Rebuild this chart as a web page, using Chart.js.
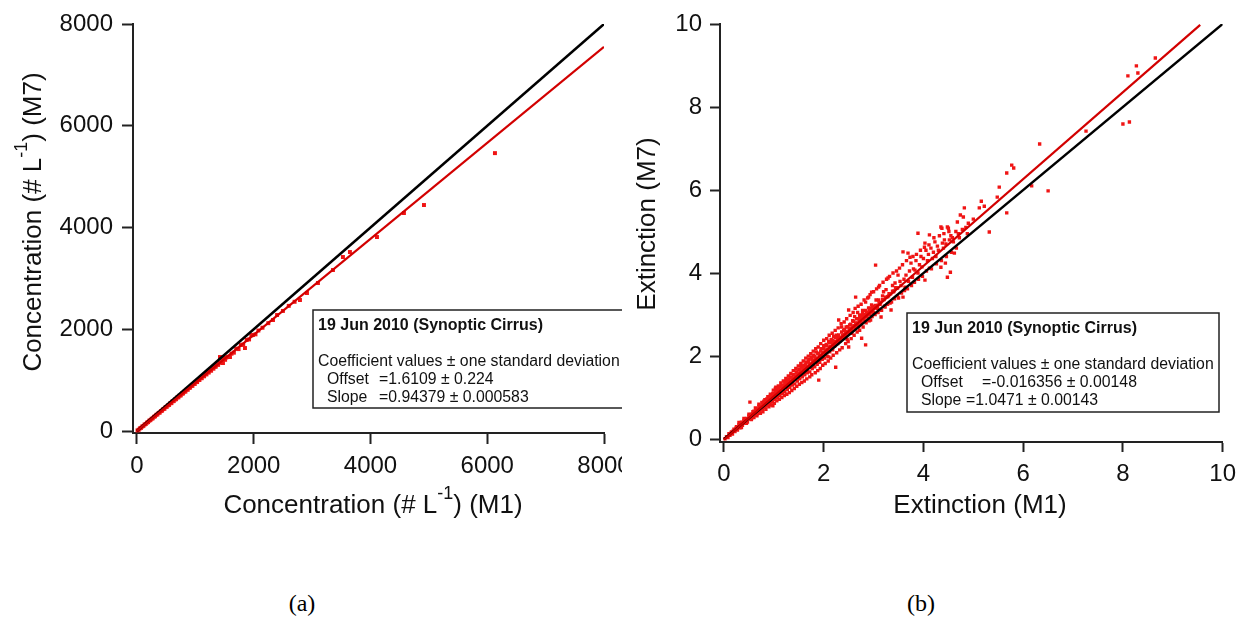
<!DOCTYPE html>
<html>
<head>
<meta charset="utf-8">
<script src="https://cdn.jsdelivr.net/npm/chart.js@4.4.0/dist/chart.umd.min.js"></script>
<style>
  body { margin: 0; background: #fff; }
  #wrap { position: relative; width: 1244px; height: 634px; overflow: hidden; background: #fff; }
  #chartA { position: absolute; left: 0; top: 0; }
  #chartB { position: absolute; left: 622px; top: 0; background: #fff; }
  .cap { position: absolute; top: 590px; font: 24px "Liberation Serif", "Times New Roman", serif; color: #000; transform: translateX(-50%); }
</style>
</head>
<body>
<div id="wrap">
  <canvas id="chartA" width="660" height="540"></canvas>
  <canvas id="chartB" width="622" height="540"></canvas>
  <span class="cap" style="left:302px">(a)</span>
  <span class="cap" style="left:921px">(b)</span>
</div>
<script>
/* ---------------- DATA (a) : concentration ---------------- */
const concTicks = [0, 2000, 4000, 6000, 8000];

const concX = [10, 30, 50, 70, 90, 110, 130, 150, 170, 190, 210, 230, 250, 270, 290, 310, 330, 350, 370, 390,
  410, 430, 450, 470, 490, 510, 530, 550, 570, 590, 610, 630, 650, 670, 690, 710, 730, 750, 770, 790,
  810, 830, 850, 870, 890, 910, 930, 950, 970, 990, 1010, 1030, 1050, 1070, 1090, 1110, 1130, 1150, 1170, 1190,
  1210, 1230, 1250, 1270, 1290, 1310, 1330, 1350, 1370, 1390, 1410, 1422, 1440, 1455, 1473, 1490, 1510, 1530, 1560, 1593,
  1620, 1660, 1700, 1740, 1780, 1820, 1850, 1880, 1920, 1960, 1987, 2030, 2080, 2150, 2250, 2330, 2400, 2500, 2600, 2700,
  2792, 2912, 3100, 3357, 3528, 3648, 4111, 4573, 4916, 6132];
const concY = [12, 25, 52, 62, 88, 100, 127, 138, 165, 175, 203, 214, 240, 250, 280, 288, 318, 325, 356, 362,
  392, 400, 430, 436, 470, 476, 505, 512, 546, 548, 585, 588, 620, 625, 660, 662, 695, 700, 735, 738,
  772, 775, 812, 812, 848, 852, 885, 888, 925, 925, 962, 962, 1000, 1002, 1040, 1038, 1080, 1075, 1118, 1112,
  1155, 1150, 1195, 1185, 1235, 1225, 1262, 1265, 1310, 1300, 1345, 1454, 1345, 1420, 1336, 1440, 1400, 1445, 1460, 1454,
  1520, 1540, 1620, 1610, 1690, 1700, 1631, 1790, 1800, 1880, 1887, 1900, 1975, 2030, 2120, 2182, 2280, 2360, 2460, 2540,
  2575, 2712, 2909, 3164, 3420, 3518, 3813, 4285, 4442, 5462];

const concOneX = [0, 8000];
const concOneY = [0, 8000];
const concFitX = [0, 8000];
const concFitY = [1.6, 7552];

/* ---------------- DATA (b) : extinction ---------------- */
const extTicks = [0, 2, 4, 6, 8, 10];

// edges of the cloud and the outliers
const extX = [0.02, 0.05, 0.08, 0.10, 0.12, 0.15, 0.17, 0.20, 0.22, 0.25, 0.27, 0.30, 0.32, 0.35, 0.37, 0.40, 0.42, 0.45, 0.47, 0.50,
  0.52, 0.52, 0.55, 0.57, 0.60, 0.62, 0.65, 0.67, 0.70, 0.72, 0.75, 0.77, 0.80, 0.82, 0.85, 0.87, 0.90, 0.92, 0.95, 0.97,
  0.98, 1.00, 1.02, 1.03, 1.05, 1.07, 1.10, 1.12, 1.15, 1.17, 1.20, 1.22, 1.25, 1.27, 1.30, 1.32, 1.35, 1.37, 1.40, 1.42,
  1.45, 1.47, 1.50, 1.52, 1.55, 1.57, 1.60, 1.62, 1.65, 1.67, 1.70, 1.71, 1.72, 1.75, 1.77, 1.80, 1.81, 1.82, 1.85, 1.87,
  1.90, 1.90, 1.92, 1.95, 1.97, 2.00, 2.02, 2.05, 2.07, 2.10, 2.10, 2.12, 2.15, 2.16, 2.18, 2.20, 2.22, 2.24, 2.25, 2.28,
  2.30, 2.30, 2.33, 2.36, 2.38, 2.40, 2.42, 2.45, 2.47, 2.50, 2.50, 2.52, 2.55, 2.56, 2.58, 2.60, 2.62, 2.64, 2.65, 2.68,
  2.70, 2.72, 2.74, 2.76, 2.78, 2.80, 2.84, 2.84, 2.86, 2.90, 2.92, 2.94, 2.96, 2.98, 3.00, 3.04, 3.05, 3.08, 3.10, 3.10,
  3.13, 3.15, 3.18, 3.20, 3.23, 3.25, 3.29, 3.30, 3.33, 3.35, 3.38, 3.40, 3.43, 3.45, 3.49, 3.50, 3.53, 3.55, 3.59, 3.59,
  3.61, 3.63, 3.65, 3.69, 3.70, 3.72, 3.75, 3.78, 3.80, 3.83, 3.85, 3.89, 3.89, 3.92, 3.95, 3.97, 4.00, 4.03, 4.03, 4.05,
  4.08, 4.10, 4.12, 4.12, 4.15, 4.18, 4.20, 4.23, 4.25, 4.28, 4.30, 4.35, 4.35, 4.37, 4.38, 4.40, 4.42, 4.44, 4.45, 4.48,
  4.48, 4.50, 4.52, 4.54, 4.55, 4.58, 4.62, 4.65, 4.68, 4.70, 4.74, 4.80, 4.82, 4.85, 4.90, 5.00, 5.12, 5.16, 5.22, 5.32,
  5.48, 5.52, 5.67, 5.67, 5.77, 5.81, 6.17, 6.33, 6.50, 7.26, 8.00, 8.10, 8.13, 8.27, 8.30, 8.65];
const extY = [0.01, 0.06, 0.04, 0.13, 0.09, 0.17, 0.12, 0.24, 0.18, 0.30, 0.22, 0.34, 0.27, 0.41, 0.33, 0.45, 0.38, 0.50, 0.41, 0.56,
  0.89, 0.48, 0.60, 0.52, 0.67, 0.58, 0.72, 0.61, 0.79, 0.68, 0.80, 0.72, 0.88, 0.76, 0.93, 0.82, 1.00, 0.85, 1.04, 0.90,
  0.80, 1.10, 0.95, 1.22, 1.16, 1.00, 1.20, 1.05, 1.27, 1.10, 1.30, 1.14, 1.38, 1.20, 1.45, 1.25, 1.50, 1.30, 1.55, 1.33,
  1.62, 1.40, 1.68, 1.45, 1.75, 1.50, 1.78, 1.55, 1.86, 1.60, 1.92, 1.73, 1.62, 1.98, 1.70, 2.02, 1.90, 1.74, 2.10, 1.80,
  2.07, 1.42, 1.85, 2.18, 1.92, 2.25, 1.95, 2.28, 2.00, 1.98, 2.35, 2.10, 2.40, 2.19, 2.15, 2.47, 2.25, 1.73, 2.50, 2.30,
  2.87, 2.43, 2.38, 2.70, 2.45, 2.62, 2.50, 2.70, 2.40, 3.11, 2.22, 2.75, 2.60, 2.55, 2.85, 2.70, 2.95, 3.42, 2.75, 3.05,
  2.70, 2.90, 2.99, 2.43, 3.10, 2.95, 3.30, 2.27, 3.05, 3.42, 3.15, 2.87, 3.54, 3.20, 3.05, 4.19, 3.35, 3.15, 3.66, 3.35,
  3.25, 2.94, 3.45, 3.55, 3.18, 3.60, 3.88, 3.45, 3.28, 3.11, 3.70, 3.55, 3.76, 3.65, 3.95, 3.40, 3.80, 3.70, 4.51, 3.42,
  3.85, 3.66, 3.95, 4.48, 3.80, 4.05, 4.24, 3.90, 4.10, 4.07, 4.30, 4.96, 4.00, 4.20, 4.40, 4.15, 4.35, 4.72, 3.83, 4.55,
  4.30, 4.45, 4.92, 4.12, 4.60, 4.35, 4.50, 4.75, 4.40, 4.65, 4.55, 5.11, 4.14, 5.08, 4.72, 4.60, 4.80, 4.24, 4.70, 5.11,
  3.90, 5.08, 4.80, 4.02, 4.90, 4.85, 4.48, 5.00, 5.23, 4.95, 5.40, 5.35, 5.57, 5.10, 5.20, 5.30, 5.57, 5.73, 5.61, 4.99,
  5.83, 6.07, 6.41, 5.45, 6.60, 6.53, 6.10, 7.11, 5.98, 7.42, 7.59, 8.75, 7.64, 8.99, 8.82, 9.18];

// outer part of the dense band
const extBandX = [0.30, 0.35, 0.40, 0.45, 0.50, 0.55, 0.58, 0.60, 0.63, 0.66, 0.70, 0.73, 0.76, 0.78, 0.82, 0.84, 0.88, 0.90, 0.93, 0.95,
  0.99, 1.01, 1.04, 1.06, 1.09, 1.11, 1.14, 1.16, 1.19, 1.21, 1.24, 1.26, 1.29, 1.31, 1.34, 1.36, 1.39, 1.41, 1.44, 1.46,
  1.49, 1.51, 1.54, 1.56, 1.59, 1.61, 1.64, 1.66, 1.69, 1.72, 1.74, 1.76, 1.79, 1.83, 1.84, 1.88, 1.89, 1.93, 1.94, 1.98,
  2.00, 2.03, 2.06, 2.09, 2.11, 2.14, 2.17, 2.19, 2.23, 2.26, 2.29, 2.32, 2.35, 2.37, 2.41, 2.44, 2.46, 2.49, 2.53, 2.55,
  2.59, 2.61, 2.63, 2.67, 2.69, 2.72, 2.75, 2.79, 2.81, 2.85, 2.88, 2.91, 2.93, 2.97, 3.00, 3.03, 3.06, 3.09, 3.12, 3.16,
  3.19, 3.22, 3.26, 3.28, 3.32, 3.36, 3.39, 3.42, 3.46, 3.48, 3.52, 3.56, 3.58, 3.62, 3.66, 3.68, 3.73, 3.76, 3.79, 3.82,
  3.86, 3.90, 3.94, 3.98, 4.02, 4.06, 4.11, 4.16, 4.21, 4.26, 4.32, 4.36, 4.41, 4.46, 4.51, 4.56, 4.60, 4.66, 4.72, 4.78,
  4.88];
const extBandY = [0.40, 0.28, 0.50, 0.38, 0.60, 0.47, 0.66, 0.52, 0.75, 0.56, 0.84, 0.62, 0.88, 0.66, 0.95, 0.72, 1.02, 0.78, 1.08, 0.82,
  1.18, 0.86, 1.25, 0.92, 1.28, 0.96, 1.35, 1.00, 1.40, 1.05, 1.46, 1.08, 1.52, 1.12, 1.58, 1.17, 1.65, 1.22, 1.70, 1.27,
  1.76, 1.32, 1.82, 1.36, 1.88, 1.40, 1.95, 1.45, 2.00, 1.50, 2.06, 1.55, 2.12, 1.60, 2.18, 1.65, 2.22, 1.70, 2.30, 1.78,
  2.38, 1.82, 2.42, 1.88, 2.50, 1.95, 2.55, 2.02, 2.62, 2.08, 2.68, 2.15, 2.78, 2.20, 2.82, 2.30, 2.90, 2.35, 2.98, 2.42,
  3.05, 2.50, 3.15, 2.58, 3.20, 2.62, 3.25, 2.70, 3.35, 2.80, 3.40, 2.85, 3.48, 2.95, 3.55, 3.00, 3.62, 3.05, 3.70, 3.10,
  3.78, 3.20, 3.85, 3.25, 3.92, 3.30, 4.00, 3.38, 4.05, 3.45, 4.12, 3.52, 4.20, 3.58, 4.30, 3.62, 4.38, 3.70, 4.40, 3.78,
  4.45, 3.85, 4.55, 3.92, 4.62, 4.05, 4.68, 4.10, 4.85, 4.22, 4.90, 4.30, 4.95, 4.40, 5.00, 4.50, 4.75, 4.60, 4.85, 5.05,
  4.95];

// core of the dense band
const extCoreX = [0.11, 0.14, 0.18, 0.21, 0.24, 0.28, 0.31, 0.34, 0.38, 0.41, 0.44, 0.48, 0.51, 0.54, 0.58, 0.61, 0.64, 0.68, 0.71, 0.74,
  0.78, 0.81, 0.84, 0.88, 0.91, 0.94, 0.98, 1.01, 1.04, 1.08, 1.11, 1.14, 1.18, 1.21, 1.24, 1.28, 1.31, 1.34, 1.38, 1.41,
  1.44, 1.48, 1.51, 1.54, 1.58, 1.61, 1.64, 1.68, 1.71, 1.74, 1.78, 1.81, 1.84, 1.88, 1.91, 1.94, 1.98, 2.01, 2.04, 2.08,
  2.11, 2.14, 2.18, 2.21, 2.24, 2.28, 2.31, 2.34, 2.38, 2.41, 2.44, 2.48, 2.51, 2.54, 2.58, 2.61, 2.64, 2.68, 2.71, 2.74,
  2.78, 2.81, 2.84, 2.88, 2.91, 2.94, 2.98, 3.01, 3.04, 3.08, 3.11, 3.14, 3.18, 3.21, 3.24, 3.28, 3.31, 3.34, 3.38, 3.41,
  3.44, 3.48,
  0.80, 0.83, 0.86, 0.89, 0.92, 0.95, 0.98, 1.01, 1.04, 1.07, 1.10, 1.13, 1.16, 1.19, 1.22, 1.25, 1.28, 1.31, 1.34, 1.37,
  1.40, 1.43, 1.46, 1.49, 1.52, 1.55, 1.58, 1.61, 1.64, 1.67, 1.70, 1.73, 1.76, 1.79, 1.82, 1.85, 1.88, 1.91, 1.94, 1.97,
  2.00, 2.03, 2.06, 2.09, 2.12, 2.15, 2.18, 2.21, 2.24, 2.27, 2.30, 2.33, 2.36, 2.39, 2.42, 2.45, 2.48, 2.51, 2.54, 2.57,
  2.60, 2.63, 2.66, 2.69, 2.72, 2.75, 2.78, 2.81, 2.84, 2.87, 2.90, 2.93, 2.96, 2.99];
const extCoreY = [0.12, 0.14, 0.19, 0.21, 0.26, 0.28, 0.33, 0.35, 0.40, 0.42, 0.47, 0.49, 0.54, 0.55, 0.61, 0.63, 0.68, 0.70, 0.75, 0.76,
  0.82, 0.84, 0.89, 0.91, 0.96, 0.97, 1.03, 1.05, 1.10, 1.12, 1.17, 1.18, 1.24, 1.26, 1.31, 1.32, 1.38, 1.40, 1.45, 1.47,
  1.52, 1.53, 1.59, 1.60, 1.66, 1.68, 1.73, 1.74, 1.80, 1.81, 1.87, 1.89, 1.94, 1.95, 2.01, 2.02, 2.08, 2.10, 2.15, 2.16,
  2.22, 2.23, 2.30, 2.31, 2.36, 2.37, 2.44, 2.45, 2.50, 2.52, 2.58, 2.58, 2.65, 2.66, 2.72, 2.73, 2.80, 2.79, 2.86, 2.87,
  2.93, 2.94, 3.00, 3.01, 3.07, 3.08, 3.14, 3.15, 3.22, 3.22, 3.28, 3.29, 3.36, 3.36, 3.42, 3.43, 3.50, 3.50, 3.56, 3.57,
  3.64, 3.64,
  0.91, 0.80, 0.97, 0.86, 1.03, 0.92, 1.10, 0.99, 1.16, 1.05, 1.22, 1.11, 1.29, 1.18, 1.35, 1.24, 1.42, 1.30, 1.48, 1.36,
  1.54, 1.43, 1.61, 1.49, 1.67, 1.55, 1.73, 1.62, 1.80, 1.68, 1.86, 1.74, 1.93, 1.80, 1.99, 1.87, 2.06, 1.93, 2.12, 1.99,
  2.19, 2.06, 2.25, 2.12, 2.32, 2.18, 2.38, 2.24, 2.45, 2.31, 2.51, 2.37, 2.58, 2.43, 2.64, 2.50, 2.71, 2.56, 2.77, 2.62,
  2.84, 2.68, 2.90, 2.75, 2.97, 2.81, 3.03, 2.87, 3.10, 2.94, 3.16, 3.00, 3.23, 3.06];

const extOneX = [0, 10];
const extOneY = [0, 10];
const extFitX = [0, 9.55];
const extFitY = [-0.016, 9.98];

/* ---------------- HELPERS ---------------- */
const FONT = '"Liberation Sans", Arial, sans-serif';
const pointRed = "#f01414";
const lineRed = "#d20000";

function pairs(xs, ys) {
  return xs.map((x, i) => ({ x: x, y: ys[i] }));
}

// text with a superscript part, centred on cx, baseline at y
function drawRich(ctx, parts, cx, y, size, supSize, raise) {
  let total = 0;
  parts.forEach(p => {
    ctx.font = (p.sup ? supSize : size) + "px " + FONT;
    p.w = ctx.measureText(p.t).width;
    total += p.w;
  });
  let x = cx - total / 2;
  ctx.textAlign = "left";
  ctx.textBaseline = "alphabetic";
  parts.forEach(p => {
    ctx.font = (p.sup ? supSize : size) + "px " + FONT;
    ctx.fillText(p.t, x, y - (p.sup ? raise : 0));
    x += p.w;
  });
}

/* -------- titles + coefficient box plugin -------- */
const decoPlugin = {
  id: "deco",
  afterDraw(chart, args, o) {
    const ctx = chart.ctx;
    ctx.save();
    ctx.fillStyle = "#111";

    // x title
    drawRich(ctx, o.xTitle, o.xTitlePos[0], o.xTitlePos[1], 26, 18, 14);

    // y title (rotated)
    ctx.save();
    ctx.translate(o.yTitlePos[0], o.yTitlePos[1]);
    ctx.rotate(-Math.PI / 2);
    drawRich(ctx, o.yTitle, 0, 0, 26, 18, 14);
    ctx.restore();

    // coefficient box
    const b = o.box;
    ctx.fillStyle = "#fff";
    ctx.fillRect(b.x, b.y, b.w, b.h);
    ctx.strokeStyle = "#222";
    ctx.lineWidth = 1.5;
    ctx.strokeRect(b.x, b.y, b.w, b.h);

    ctx.fillStyle = "#111";
    ctx.textAlign = "left";
    ctx.textBaseline = "alphabetic";
    ctx.font = "bold 16px " + FONT;
    ctx.fillText("19 Jun 2010 (Synoptic Cirrus)", b.x + 5, b.y + 20);
    ctx.font = "15.8px " + FONT;
    ctx.fillText("Coefficient values \u00b1 one standard deviation", b.x + 5, b.y + 56);
    ctx.fillText("Offset", b.x + 14, b.y + 74);
    ctx.fillText(o.offset, b.x + b.eqOff, b.y + 74);
    ctx.fillText("Slope", b.x + 14, b.y + 92);
    ctx.fillText(o.slope, b.x + b.eqSlope, b.y + 92);

    ctx.restore();
  }
};

function axis(min, max, ticks, tickLen, pad, size) {
  return {
    type: "linear",
    min: min,
    max: max,
    afterBuildTicks: s => { s.ticks = ticks.map(v => ({ value: v })); },
    afterFit: s => {
      if (s.isHorizontal()) s.height = size;
      else s.width = size;
    },
    grid: {
      drawOnChartArea: false,
      drawTicks: true,
      tickLength: tickLen,
      tickColor: "#222",
      tickWidth: 2
    },
    border: { display: true, color: "#222", width: 2 },
    ticks: {
      padding: pad,
      maxRotation: 0,
      autoSkip: false,
      color: "#111",
      font: { family: FONT, size: 24 },
      callback: v => String(v)
    }
  };
}

function makeChart(id, pts, one, fit, xs, ys, deco, pad, radius) {
  return new Chart(document.getElementById(id), {
    type: "scatter",
    data: {
      datasets: [
        {
          data: fit,
          showLine: true,
          borderColor: lineRed,
          borderWidth: 2.2,
          pointRadius: 0,
          order: 1
        },
        {
          data: one,
          showLine: true,
          borderColor: "#000",
          borderWidth: 2.5,
          pointRadius: 0,
          order: 2
        },
        {
          data: pts,
          pointStyle: "rect",
          pointRadius: radius,
          pointBorderWidth: 0,
          backgroundColor: pointRed,
          borderColor: pointRed,
          order: 3
        }
      ]
    },
    options: {
      responsive: false,
      animation: false,
      devicePixelRatio: 1,
      layout: { padding: pad },
      scales: { x: xs, y: ys },
      plugins: {
        legend: { display: false },
        tooltip: { enabled: false },
        deco: deco
      }
    },
    plugins: [decoPlugin]
  });
}

/* ---------------- CHART (a) ---------------- */
makeChart("chartA",
  pairs(concX, concY),
  pairs(concOneX, concOneY),
  pairs(concFitX, concFitY),
  axis(-68, 8000, concTicks, 11, 8, 107),
  axis(-39, 8000, concTicks, 11, 9, 133),
  {
    xTitle: [{ t: "Concentration (# L" }, { t: "-1", sup: true }, { t: ") (M1)" }],
    xTitlePos: [373, 513],
    yTitle: [{ t: "Concentration (# L" }, { t: "-1", sup: true }, { t: ") (M7)" }],
    yTitlePos: [41, 222],
    box: { x: 313, y: 310, w: 330, h: 98, eqOff: 66, eqSlope: 66 },
    offset: "=1.6109 \u00b1 0.224",
    slope: "=0.94379 \u00b1 0.000583"
  },
  { left: 0, top: 24, right: 56, bottom: 0 },
  2.8
);

/* ---------------- CHART (b) ---------------- */
makeChart("chartB",
  pairs(extX.concat(extBandX, extCoreX), extY.concat(extBandY, extCoreY)),
  pairs(extOneX, extOneY),
  pairs(extFitX, extFitY),
  axis(-0.08, 10, extTicks, 10, 8, 98),
  axis(-0.07, 10, extTicks, 10, 8, 98),
  {
    xTitle: [{ t: "Extinction (M1)" }],
    xTitlePos: [358, 513],
    yTitle: [{ t: "Extinction (M7)" }],
    yTitlePos: [33, 224],
    box: { x: 285, y: 313, w: 312, h: 99, eqOff: 75, eqSlope: 59 },
    offset: "=-0.016356 \u00b1 0.00148",
    slope: "=1.0471 \u00b1 0.00143"
  },
  { left: 0, top: 24, right: 16, bottom: 0 },
  2.4
);
</script>
</body>
</html>
